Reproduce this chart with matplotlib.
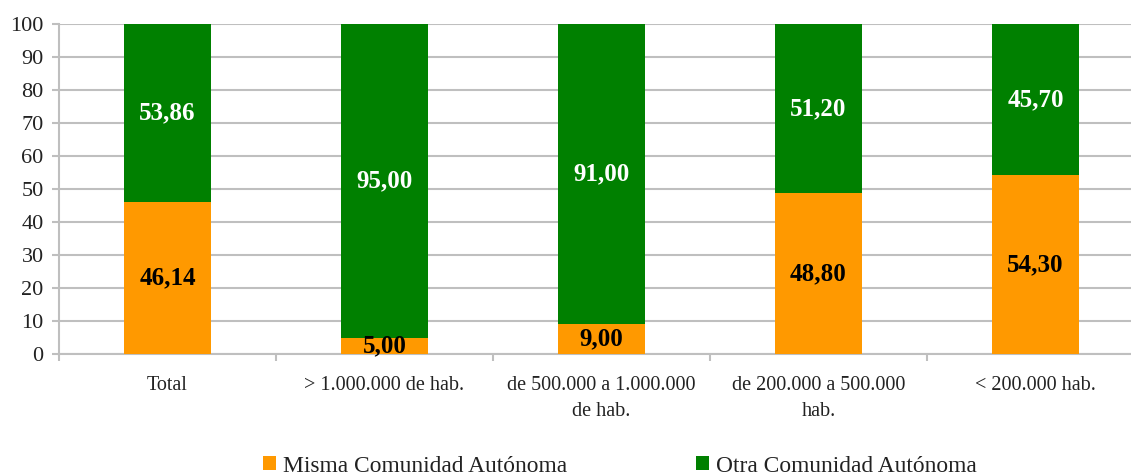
import matplotlib
matplotlib.use("Agg")
import matplotlib.pyplot as plt
import numpy as np

categories = ["Total", "> 1.000.000 de hab.", "de 500.000 a 1.000.000\nde hab.",
              "de 200.000 a 500.000\nhab.", "< 200.000 hab."]
misma = [46.14, 5.00, 9.00, 48.80, 54.30]
otra = [53.86, 95.00, 91.00, 51.20, 45.70]
series_names = ["Misma Comunidad Autónoma", "Otra Comunidad Autónoma"]
yticks = list(range(0, 101, 10))

plt.rcParams['font.family'] = ['Liberation Serif', 'DejaVu Serif']

W, H = 1131, 476
fig = plt.figure(figsize=(W / 100, H / 100), dpi=100)
ax = fig.add_axes([59 / W, 1 - 354 / H, 1085 / W, 330 / H])

x = np.arange(len(categories))
orange = "#FF9900"
green = "#008000"
bw = 0.4
b1 = ax.bar(x, misma, bw, color=orange, label=series_names[0], zorder=3)
b2 = ax.bar(x, otra, bw, bottom=misma, color=green, label=series_names[1], zorder=3)

for i in range(len(x)):
    ax.text(x[i], misma[i] / 2, f"{misma[i]:.2f}".replace(".", ","), ha="center", va="center",
            fontsize=18, fontweight="bold", color="black", zorder=4)
    ax.text(x[i], misma[i] + otra[i] / 2, f"{otra[i]:.2f}".replace(".", ","), ha="center", va="center",
            fontsize=18, fontweight="bold", color="white", zorder=4)

ax.set_xlim(-0.5, len(x) - 0.5)
ax.set_ylim(0, 100)
ax.set_yticks(yticks)
ax.set_yticklabels([str(t) for t in yticks], fontsize=16, color="#222222")
ax.yaxis.grid(True, color="#BFBFBF", linewidth=1.5, zorder=0)
ax.set_axisbelow(True)

ax.set_xticks(x)
ax.set_xticklabels(categories, fontsize=14.5, linespacing=1.45, color="#222222")
ax.set_xticks(np.arange(-0.5, len(x), 1.0), minor=True)
ax.tick_params(axis="x", which="major", length=0, pad=16)
ax.tick_params(axis="x", which="minor", length=5, color="#BFBFBF", width=1.5)
ax.tick_params(axis="y", length=5, color="#BFBFBF", width=1.5, pad=6)

for s in ["top", "right"]:
    ax.spines[s].set_visible(False)
ax.spines["left"].set_color("#BFBFBF")
ax.spines["left"].set_linewidth(1.5)
ax.spines["bottom"].set_color("#BFBFBF")
ax.spines["bottom"].set_linewidth(1.5)

leg = fig.legend(handles=[b1, b2], labels=series_names, loc="center",
                 bbox_to_anchor=(620 / W, 1 - 466 / H), ncol=2, frameon=False,
                 fontsize=16.9, handlelength=0.55, handleheight=0.55, handletextpad=0.3,
                 columnspacing=5.5, labelcolor="#222222")

fig.savefig("out.png", dpi=100)
